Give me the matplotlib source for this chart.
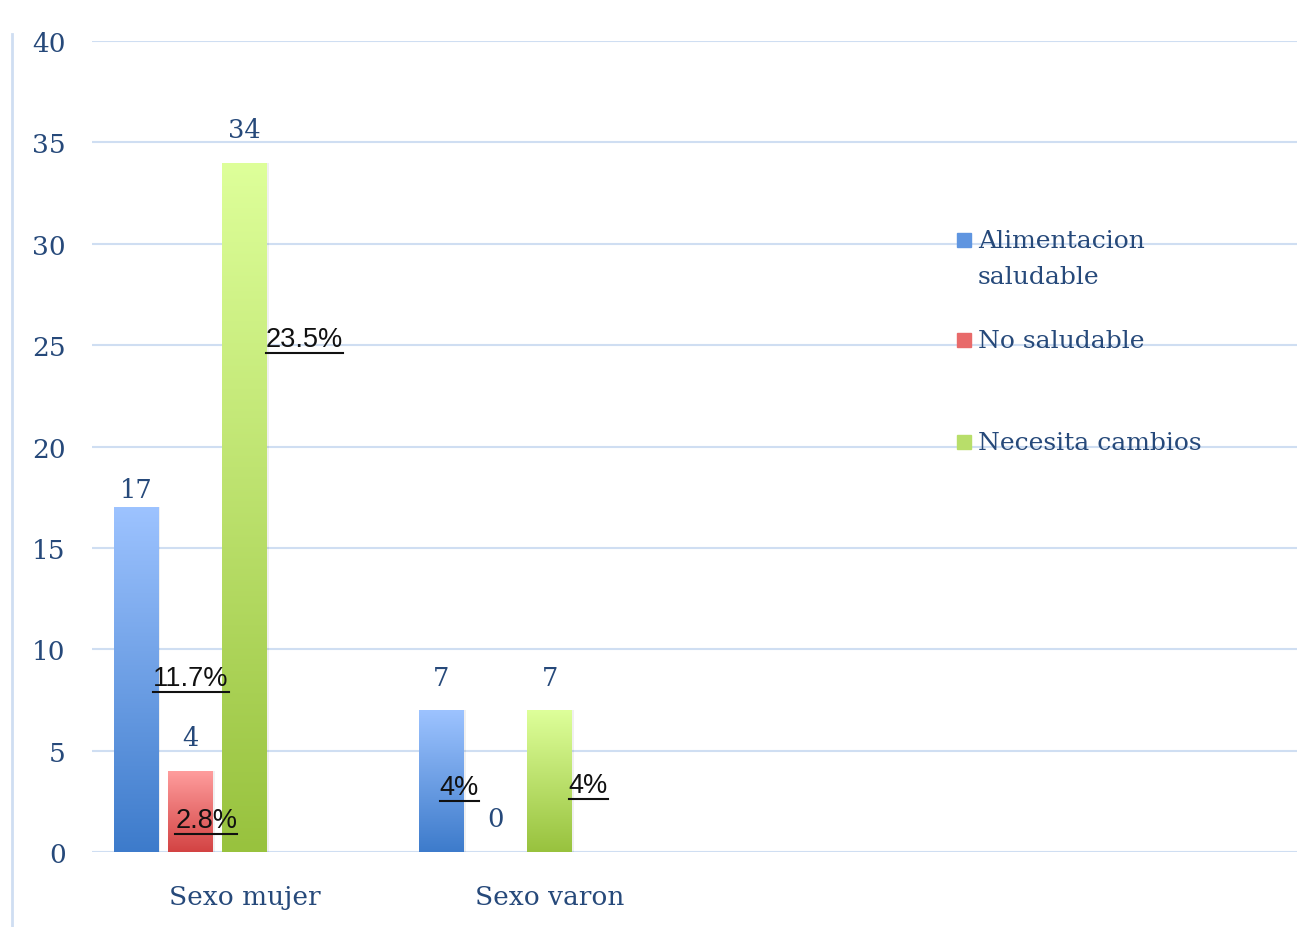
import numpy as np
import matplotlib.pyplot as plt
from matplotlib.lines import Line2D
from matplotlib.patches import Rectangle

# data
categories = ['Sexo mujer', 'Sexo varon']
series = ['Alimentacion\nsaludable', 'No saludable', 'Necesita cambios']
alimentacion = [17, 7]
no_saludable = [4, 0]
necesita = [34, 7]
values = [alimentacion, no_saludable, necesita]

pct_labels = ['11.7%', '23.5%', '2.8%', '4%', '4%']
# anchor of each percentage label (data coords)
pct_pos = [(-0.30, 8.6), (0.07, 25.3), (-0.227, 1.6), (0.64, 3.2), (1.062, 3.3)]

# colours: (top, bottom) of the vertical gradient
grads = [('#9DC3FF', '#3D7BCB'), ('#FF9E9E', '#D34343'), ('#DEFF9A', '#98C23E')]
legend_cols = ['#5F95E0', '#E86A6A', '#B8DE6A']
txt_col = '#26497A'
grid_col = '#CFDEF2'

fig = plt.figure(figsize=(12.97, 9.28), dpi=100)
ax = fig.add_axes([92 / 1297, 75 / 928, 1205 / 1297, 811 / 928])

x = np.arange(len(categories))
step = 0.178
width = 0.145
offsets = [-2 * step, -step, 0.0]

grad = np.linspace(0, 1, 256).reshape(-1, 1)
for i, vals in enumerate(values):
    bars = ax.bar(x + offsets[i], vals, width=width, color='none', zorder=3)
    cmap = plt.matplotlib.colors.LinearSegmentedColormap.from_list('g%d' % i, [grads[i][1], grads[i][0]])
    for b, v in zip(bars, vals):
        x0, w = b.get_x(), b.get_width()
        if v > 0:
            im = ax.imshow(grad, extent=[x0, x0 + w, 0, v], origin='lower', aspect='auto',
                           cmap=cmap, zorder=3)
            im.set_clip_path(b)
            # faint shadow on the right
            ax.add_patch(Rectangle((x0 + w, 0), 0.008, v, color='#000000', alpha=0.06,
                                   lw=0, zorder=2))
        off = 18 if v == 17 else 33
        ax.annotate(str(v), (x0 + w / 2, v), xytext=(0, off), textcoords='offset pixels',
                    ha='center', va='center', fontsize=18.5, family='DejaVu Serif',
                    color=txt_col, zorder=5)

ax.set_xlim(-0.5, 3.45)
ax.set_ylim(0, 40)
ax.set_yticks(range(0, 41, 5))
ax.set_xticks(x)
ax.set_xticklabels(categories)
ax.yaxis.grid(True, color=grid_col, lw=1.5)
ax.set_axisbelow(True)
for s in ax.spines.values():
    s.set_visible(False)
ax.tick_params(length=0, labelsize=19, labelcolor=txt_col)
ax.tick_params(axis='y', pad=19)
ax.tick_params(axis='x', pad=23)
for lab in ax.get_xticklabels() + ax.get_yticklabels():
    lab.set_family('DejaVu Serif')

# left axis line of the chart area
fig.add_artist(Line2D([12 / 1297, 12 / 1297], [0, 1 - 35 / 928], color=grid_col, lw=2))

# percentage labels, underlined
pct_texts = []
for lab, (px, py) in zip(pct_labels, pct_pos):
    t = ax.text(px, py, lab, ha='left', va='center', fontsize=19.5,
                family='Liberation Sans', color='#111111', zorder=6)
    pct_texts.append(t)

# legend drawn by hand
leg_y = [241, 341, 443]
for lab, c, yy in zip(series, legend_cols, leg_y):
    fy = 1 - yy / 928
    fig.add_artist(Rectangle((957 / 1297, fy - 7 / 928), 14 / 1297, 14 / 928,
                             transform=fig.transFigure, color=c))
    fig.text(978 / 1297, fy + 11 / 928, lab, ha='left', va='top', fontsize=18,
             family='DejaVu Serif', color=txt_col, linespacing=1.75)

fig.canvas.draw()
r = fig.canvas.get_renderer()
for t in pct_texts:
    bb = t.get_window_extent(r)
    y0 = (bb.y0 - 1) / fig.bbox.height
    fig.add_artist(Line2D([bb.x0 / fig.bbox.width, bb.x1 / fig.bbox.width], [y0, y0],
                          color='#111111', lw=1.5))

fig.savefig('out.png', dpi=100)
